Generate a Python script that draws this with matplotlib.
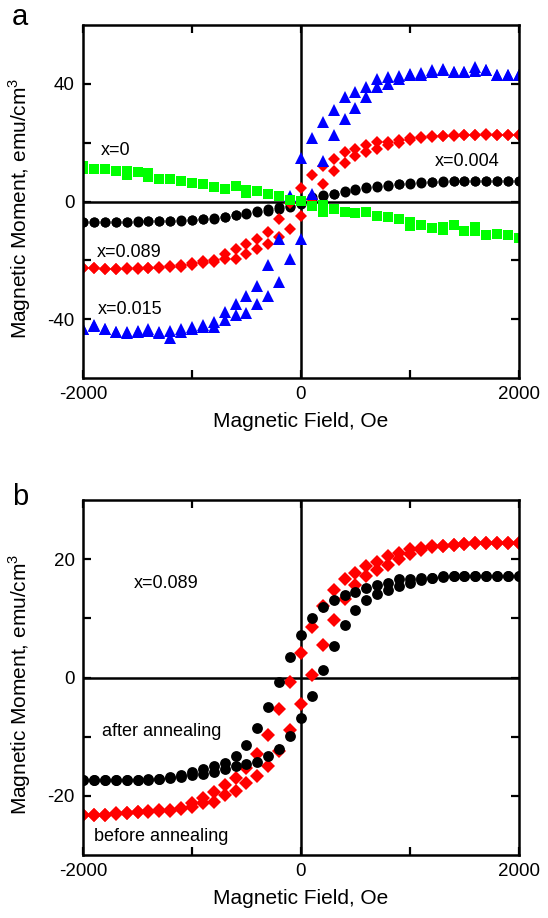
#!/usr/bin/env python3

import matplotlib

matplotlib.use("Agg")

import matplotlib.pyplot as plt


FIELD = [
    -2000, -1900, -1800, -1700, -1600, -1500, -1400, -1300, -1200, -1100, -1000,
    -900, -800, -700, -600, -500, -400, -300, -200, -100, 0,
    100, 200, 300, 400, 500, 600, 700, 800, 900, 1000,
    1100, 1200, 1300, 1400, 1500, 1600, 1700, 1800, 1900, 2000,
]

# panel a: descending ("down") and ascending ("up") branches, values on FIELD
X0_DOWN = [
    11.9, 11.1, 10.9, 10.3, 10.2, 10.0, 9.6, 7.7, 7.7, 6.8, 6.3,
    5.8, 4.9, 4.2, 5.2, 3.9, 3.4, 2.6, 1.8, 0.6, 0.3,
    -1.6, -1.1, -2.5, -3.6, -3.8, -3.6, -5.0, -5.4, -6.1, -7.0,
    -7.9, -9.0, -8.5, -7.9, -10.1, -8.8, -11.3, -11.0, -11.3, -12.4,
]
X0_UP = [
    11.0, 11.1, 10.9, 10.3, 9.1, 10.0, 8.3, 7.7, 7.7, 6.8, 6.3,
    5.8, 4.9, 4.2, 5.2, 2.8, 3.4, 2.6, 1.8, 0.6, 0.3,
    -1.6, -3.6, -2.5, -3.6, -3.8, -3.6, -5.0, -5.4, -6.1, -8.2,
    -7.9, -9.0, -9.8, -7.9, -10.1, -9.9, -11.3, -11.0, -11.3, -12.4,
]

X004_DOWN = [
    -6.9, -6.9, -6.9, -6.8, -6.8, -6.7, -6.7, -6.6, -6.5, -6.4, -6.2,
    -6.0, -5.6, -5.1, -4.5, -3.9, -3.3, -2.7, -2.0, -1.4, 0.3,
    1.5, 2.1, 2.7, 3.5, 4.2, 4.8, 5.2, 5.6, 6.0, 6.3,
    6.5, 6.6, 6.8, 6.9, 7.0, 7.0, 7.0, 6.9, 6.9, 6.8,
]
X004_UP = [
    -6.9, -6.9, -6.9, -6.9, -6.8, -6.8, -6.7, -6.7, -6.6, -6.5, -6.3,
    -6.1, -5.8, -5.3, -4.7, -4.2, -3.6, -3.1, -2.4, -1.8, -1.0,
    0.9, 1.7, 2.4, 3.2, 4.0, 4.6, 5.0, 5.4, 5.8, 6.1,
    6.3, 6.5, 6.7, 6.8, 6.9, 7.0, 7.0, 6.9, 6.9, 6.8,
]

X015_DOWN = [
    -43.2, -42.0, -43.5, -44.3, -44.5, -44.0, -43.5, -44.5, -44.0, -43.5, -42.5,
    -42.1, -41.0, -37.6, -34.8, -32.0, -28.6, -21.6, -12.8, 1.8, 14.8,
    21.5, 27.1, 31.1, 35.6, 37.3, 39.0, 41.6, 42.3, 42.6, 43.5,
    43.0, 44.6, 45.2, 44.1, 44.1, 45.6, 44.6, 43.1, 42.9, 42.9,
]
X015_UP = [
    -43.2, -42.3, -43.5, -44.3, -44.8, -44.5, -44.0, -44.8, -46.3, -44.2, -43.5,
    -42.6, -42.7, -40.4, -38.7, -37.8, -34.8, -32.2, -27.5, -19.6, -12.6,
    2.7, 13.6, 22.6, 27.9, 31.9, 35.4, 38.8, 40.1, 41.5, 43.0,
    43.6, 44.0, 44.6, 44.1, 44.1, 44.2, 44.6, 43.1, 42.9, 42.9,
]

X089_DOWN = [
    -22.6, -22.7, -22.8, -22.8, -22.7, -22.6, -22.5, -22.3, -22.0, -21.5, -21.0,
    -20.3, -20.0, -17.7, -16.2, -14.5, -12.8, -10.3, -5.9, -0.5, 4.6,
    9.1, 12.1, 14.6, 16.9, 17.9, 19.1, 20.1, 20.3, 20.8, 21.5,
    21.8, 22.1, 22.3, 22.5, 22.6, 22.7, 22.7, 22.6, 22.6, 22.5,
]
X089_UP = [
    -22.6, -22.7, -22.8, -22.9, -22.8, -22.8, -22.7, -22.6, -22.4, -22.1, -21.6,
    -21.0, -20.6, -19.6, -19.4, -17.7, -16.2, -14.5, -11.9, -9.2, -5.0,
    0.8, 5.8, 10.5, 13.1, 15.5, 16.8, 17.7, 19.2, 20.0, 20.9,
    21.5, 21.9, 22.2, 22.4, 22.6, 22.7, 22.8, 22.7, 22.6, 22.6,
]

# panel b: x=0.089 before / after annealing
BEFORE_DOWN = [
    -23.2, -23.2, -23.2, -22.9, -22.9, -22.7, -22.5, -22.4, -22.4, -22.1, -21.2,
    -20.4, -19.3, -18.1, -17.0, -15.3, -12.9, -9.7, -5.4, -0.7, 4.2,
    8.6, 12.1, 14.8, 16.6, 17.7, 18.8, 19.6, 20.5, 21.1, 21.7,
    21.9, 22.2, 22.3, 22.4, 22.6, 22.7, 22.8, 22.8, 22.8, 22.8,
]
BEFORE_UP = [
    -23.2, -23.2, -23.2, -23.0, -22.9, -22.8, -22.7, -22.6, -22.5, -22.3, -21.9,
    -21.2, -21.0, -19.8, -19.1, -17.8, -16.6, -14.9, -12.5, -8.8, -4.5,
    0.5, 5.5, 9.8, 13.2, 15.6, 17.1, 18.2, 19.0, 20.0, 20.8,
    21.6, 22.0, 22.2, 22.4, 22.6, 22.7, 22.8, 22.8, 22.8, 22.8,
]
AFTER_DOWN = [
    -17.3, -17.3, -17.3, -17.3, -17.3, -17.3, -17.3, -17.2, -16.8, -16.4, -15.9,
    -15.4, -14.9, -14.4, -13.2, -11.4, -8.5, -5.0, -0.7, 3.4, 7.2,
    10.0, 12.0, 13.1, 13.9, 14.5, 15.1, 15.6, 16.0, 16.6, 16.7,
    16.8, 16.9, 17.1, 17.2, 17.2, 17.2, 17.2, 17.2, 17.2, 17.2,
]
AFTER_UP = [
    -17.3, -17.3, -17.3, -17.3, -17.3, -17.3, -17.2, -17.1, -16.9, -16.8, -16.4,
    -16.3, -15.9, -15.5, -15.0, -14.6, -14.2, -13.3, -12.1, -9.9, -6.8,
    -3.2, 1.2, 5.3, 8.8, 11.4, 13.1, 14.2, 14.8, 15.4, 15.9,
    16.5, 16.8, 17.0, 17.1, 17.2, 17.2, 17.2, 17.2, 17.2, 17.2,
]

FONT = ["Liberation Sans", "DejaVu Sans"]
X_LABEL = "Magnetic Field, Oe"
Y_LABEL = "Magnetic Moment, emu/cm$^3$"


def draw_loop(ax, down, up, color, marker, size):
    for branch in (down, up):
        ax.plot(FIELD, branch, linestyle="none", marker=marker, color=color,
                markersize=size, markeredgewidth=0)


def style_axes(ax, ylim, major_y, minor_y):
    ax.set_xlim(-2000, 2000)
    ax.set_ylim(*ylim)
    ax.set_xticks([-2000, 0, 2000])
    ax.set_xticks([-1000, 1000], minor=True)
    ax.set_yticks(major_y)
    ax.set_yticks(minor_y, minor=True)
    ax.axhline(0, color="black", linewidth=1.8, zorder=1)
    ax.axvline(0, color="black", linewidth=1.8, zorder=1)
    for spine in ax.spines.values():
        spine.set_linewidth(1.8)
    for which in ("major", "minor"):
        ax.tick_params(which=which, direction="in", top=True, right=True,
                       length=6, width=1.6, labelsize=13.5, pad=6)
    ax.set_xlabel(X_LABEL, fontsize=15)
    ax.set_ylabel(Y_LABEL, fontsize=15)
    ax.xaxis.set_label_coords(0.5, -0.095)
    ax.yaxis.set_label_coords(-0.115, 0.48)


def main() -> int:
    plt.rcParams["font.family"] = FONT
    plt.rcParams["axes.unicode_minus"] = False
    plt.rcParams["mathtext.fontset"] = "custom"
    plt.rcParams["mathtext.rm"] = "Liberation Sans"

    fig = plt.figure(figsize=(5.48, 9.18), dpi=100)
    ax_a = fig.add_axes([0.1515, 0.5882, 0.7955, 0.3846])
    ax_b = fig.add_axes([0.1515, 0.0686, 0.7955, 0.3867])

    draw_loop(ax_a, X004_DOWN, X004_UP, "black", "o", 7.2)
    draw_loop(ax_a, X089_DOWN, X089_UP, "#ff0000", "D", 6.6)
    draw_loop(ax_a, X015_DOWN, X015_UP, "#0000ff", "^", 8.2)
    draw_loop(ax_a, X0_DOWN, X0_UP, "#00ff00", "s", 6.8)
    style_axes(ax_a, (-60, 60), [-40, 0, 40], [-20, 20])
    ax_a.text(-1840, 15.9, "x=0", fontsize=13)
    ax_a.text(1230, 11.9, "x=0.004", fontsize=13)
    ax_a.text(-1870, -18.7, "x=0.089", fontsize=13)
    ax_a.text(-1860, -38.2, "x=0.015", fontsize=13)

    draw_loop(ax_b, BEFORE_DOWN, BEFORE_UP, "#ff0000", "D", 6.8)
    draw_loop(ax_b, AFTER_DOWN, AFTER_UP, "black", "o", 7.8)
    style_axes(ax_b, (-30, 30), [-20, 0, 20], [-10, 10])
    ax_b.text(-1530, 15.2, "x=0.089", fontsize=13)
    ax_b.text(-1830, -9.9, "after annealing", fontsize=13)
    ax_b.text(-1900, -27.7, "before annealing", fontsize=13)

    fig.text(0.022, 0.973, "a", fontsize=21)
    fig.text(0.022, 0.450, "b", fontsize=21)

    fig.savefig("out.png", dpi=100)
    plt.close(fig)
    return 0


if __name__ == "__main__":
    raise SystemExit(main())
